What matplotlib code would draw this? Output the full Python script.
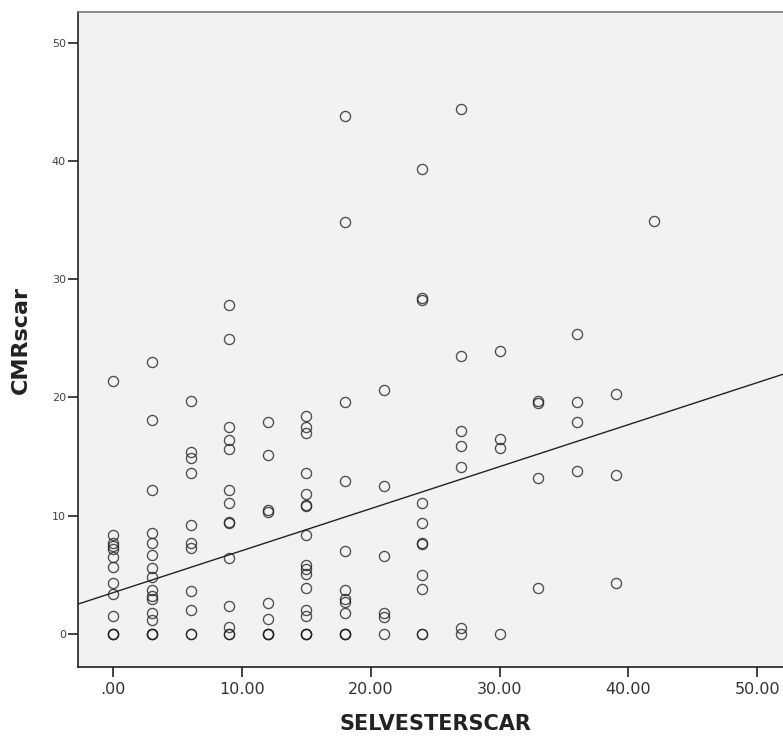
import numpy as np
import matplotlib
matplotlib.use("Agg")
import matplotlib.pyplot as plt

# SELVESTERSCAR (x) vs CMRscar (y)
sel_0 = [21.4, 8.4, 7.7, 7.4, 7.2, 6.5, 5.7, 4.3, 3.4, 1.5, 0, 0, 0]
sel_3 = [23.0, 18.1, 12.2, 8.5, 7.7, 6.7, 5.6, 4.8, 3.7, 3.2, 3.0, 1.8, 1.2, 0, 0, 0]
sel_6 = [19.7, 15.4, 14.9, 13.6, 9.2, 7.7, 7.3, 3.6, 2.0, 0, 0]
sel_9 = [27.8, 24.9, 17.5, 16.4, 15.6, 12.2, 11.1, 9.5, 9.4, 6.4, 2.4, 0.6, 0, 0]
sel_12 = [17.9, 15.1, 10.5, 10.3, 2.6, 1.3, 0, 0, 0]
sel_15 = [18.4, 17.5, 17.0, 13.6, 11.8, 10.9, 10.8, 8.4, 5.8, 5.5, 5.1, 3.9, 2.0, 1.5, 0, 0, 0]
sel_18 = [43.8, 34.8, 19.6, 12.9, 7.0, 3.7, 3.0, 2.7, 1.8, 0, 0, 0]
sel_21 = [20.6, 12.5, 6.6, 1.75, 1.4, 0]
sel_24 = [39.3, 28.4, 28.2, 11.1, 9.4, 7.7, 7.6, 5.0, 3.8, 0, 0]
sel_27 = [44.4, 23.5, 17.2, 15.9, 14.1, 0.5, 0]
sel_30 = [23.9, 16.5, 15.7, 0]
sel_33 = [19.7, 19.5, 13.2, 3.9]
sel_36 = [25.4, 19.6, 17.9, 13.8]
sel_39 = [20.3, 13.4, 4.3]
sel_42 = [34.9]

columns = {0: sel_0, 3: sel_3, 6: sel_6, 9: sel_9, 12: sel_12, 15: sel_15,
           18: sel_18, 21: sel_21, 24: sel_24, 27: sel_27, 30: sel_30,
           33: sel_33, 36: sel_36, 39: sel_39, 42: sel_42}

# fit line as drawn in the reference (intercept, slope)
fit_intercept = 3.5
fit_slope = 0.355

x_ticks = [0, 10, 20, 30, 40, 50]
x_labels = ['.00', '10.00', '20.00', '30.00', '40.00', '50.00']
y_ticks = [0, 10, 20, 30, 40, 50]

x = np.concatenate([[k] * len(v) for k, v in columns.items()]).astype(float)
y = np.concatenate([v for v in columns.values()]).astype(float)

fig = plt.figure(figsize=(7.83, 7.36), dpi=100)
ax = fig.add_axes([0.0992, 0.09375, 0.9148, 0.8899])
ax.set_facecolor('#f2f2f2')

ax.plot(x, y, 'o', ms=7.3, mfc='none', mec='#222222', mew=0.95, alpha=0.8, zorder=3)

xl = np.array([-3.0, 53.0])
ax.plot(xl, fit_intercept + fit_slope * xl, color='#222222', lw=1.0, zorder=2)

ax.set_xlim(-2.764, 52.85)
ax.set_ylim(-2.79, 52.58)

ax.set_xticks(x_ticks)
ax.set_xticklabels(x_labels, fontsize=11.5, color='#333333')
ax.set_yticks(y_ticks)
ax.set_yticklabels([str(t) for t in y_ticks], fontsize=8, color='#444444')
ax.tick_params(axis='x', length=7, width=1.2, pad=3.5, color='#222222')
ax.tick_params(axis='y', length=7, width=1.2, pad=1.5, color='#222222')

for s in ['left', 'bottom']:
    ax.spines[s].set_color('#222222')
    ax.spines[s].set_linewidth(1.2)
ax.spines['top'].set_color('#777777')
ax.spines['top'].set_linewidth(1.2)
ax.spines['right'].set_visible(False)

lab_font = ['Liberation Sans Narrow', 'DejaVu Sans']
fig.text(435.7 / 783, 6 / 736, 'SELVESTERSCAR', ha='center', va='baseline',
         fontsize=15, fontweight='bold', family=lab_font, color='#222222')
fig.text(21 / 783, 1 - 339.5 / 736, 'CMRscar', rotation=90, ha='center', va='center',
         fontsize=16, fontweight='bold', family=lab_font, color='#222222')

fig.savefig('out.png', dpi=100)
